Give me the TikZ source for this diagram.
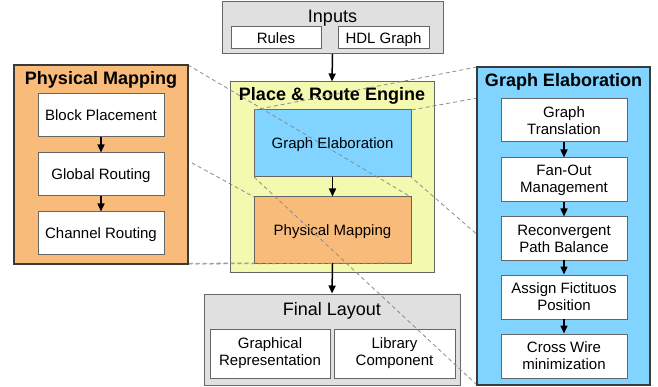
\documentclass[tikz,border=0pt]{standalone}
\usepackage{fontspec}
\setmainfont{Liberation Sans}
\usetikzlibrary{arrows.meta}
\pgfdeclarelayer{bg}
\pgfdeclarelayer{mid}
\pgfsetlayers{bg,mid,main}
\definecolor{gfill}{HTML}{E0E0E0}
\definecolor{yfill}{HTML}{F3F9AF}
\definecolor{bfill}{HTML}{80D4FF}
\definecolor{ofill}{HTML}{F8BB7A}
\definecolor{bord}{HTML}{666666}
\definecolor{dbord}{HTML}{3A3A3A}
\definecolor{zline}{HTML}{8C8C8C}
\tikzset{
  frame/.style={draw=bord, line width=1pt, inner sep=0pt, outer sep=0pt, anchor=north west},
  bigframe/.style={draw=dbord, line width=1.2pt, inner sep=0pt, outer sep=0pt, anchor=north west},
  txtbox/.style={frame, fill=white, align=center, font=\fontsize{15}{17}\selectfont},
  one/.style={text height=10.8pt, text depth=0pt},
  title/.style={anchor=base, inner sep=0pt, font=\fontsize{18}{21}\selectfont},
  btitle/.style={title, font=\fontsize{18}{21}\selectfont\bfseries},
  arr/.style={-{Triangle[length=8pt,width=7pt]}, line width=1.5pt, black, shorten >=0.5pt},
  zl/.style={draw=zline, line width=0.8pt, dash pattern=on 4pt off 3pt}
}
\begin{document}
\begin{tikzpicture}[x=1pt,y=-1pt]
\useasboundingbox (0,0) rectangle (658,387);
\begin{pgfonlayer}{bg}
  % Inputs
  \node[frame, fill=gfill, minimum width=221pt, minimum height=52pt] (inputs) at (222,2) {};
  \node[title] (inputsT) at (332.5,23) {Inputs};
  \node[txtbox, one, minimum width=90pt, minimum height=22pt] (rules) at (231,27) {Rules};
  \node[txtbox, one, minimum width=91pt, minimum height=22pt] (hdl) at (338,27) {HDL Graph};
  % Place & Route Engine
  \node[frame, fill=yfill, minimum width=204pt, minimum height=190pt] (pr) at (230,82) {};
  \node[btitle] (prT) at (332,101) {Place \& Route Engine};
  \node[frame, fill=bfill, one, font=\fontsize{15}{17}\selectfont, minimum width=157pt, minimum height=67pt] (gein) at (254,110) {Graph Elaboration};
  \node[frame, fill=ofill, one, font=\fontsize{15}{17}\selectfont, minimum width=157pt, minimum height=66pt] (pmin) at (254,197) {Physical Mapping};
  % Final Layout
  \node[frame, fill=gfill, minimum width=256pt, minimum height=91pt] (final) at (204,294) {};
  \node[title] (finalT) at (332,315) {Final Layout};
  \node[txtbox, minimum width=120pt, minimum height=49pt] (grep) at (210,329) {Graphical\\Representation};
  \node[txtbox, minimum width=121pt, minimum height=49pt] (lib) at (334,329) {Library\\Component};
  % arrows
  \draw[arr] (inputs.south) -- (pr.north);
  \draw[arr] (gein.south) -- (pmin.north);
  \draw[arr] (pmin.south) -- (final.north);
\end{pgfonlayer}
% Physical Mapping detail
\node[bigframe, fill=ofill, minimum width=174pt, minimum height=199pt] (pmbig) at (14,65) {};
\node[btitle] (pmbigT) at (101,85) {Physical Mapping};
\node[txtbox, one, minimum width=126pt, minimum height=43pt] (bp) at (38,94) {Block Placement};
\node[txtbox, one, minimum width=126pt, minimum height=43pt] (gr) at (38,153) {Global Routing};
\node[txtbox, one, minimum width=126pt, minimum height=43pt] (cr) at (38,212) {Channel Routing};
\draw[arr] (bp.south) -- (gr.north);
\draw[arr] (gr.south) -- (cr.north);
% Graph Elaboration detail
\node[bigframe, fill=bfill, minimum width=173pt, minimum height=318pt] (gebig) at (477,67) {};
\node[btitle] (gebigT) at (563.5,87) {Graph Elaboration};
\node[txtbox, minimum width=126pt, minimum height=43pt] (g1) at (501,99) {Graph\\Translation};
\node[txtbox, minimum width=126pt, minimum height=44pt] (g2) at (501,158) {Fan-Out\\Management};
\node[txtbox, minimum width=126pt, minimum height=43pt] (g3) at (501,217) {Reconvergent\\Path Balance};
\node[txtbox, minimum width=126pt, minimum height=44pt] (g4) at (501,275) {Assign Fictituos\\Position};
\node[txtbox, minimum width=126pt, minimum height=44pt] (g5) at (501,334) {Cross Wire\\minimization};
\draw[arr] (g1.south) -- (g2.north);
\draw[arr] (g2.south) -- (g3.north);
\draw[arr] (g3.south) -- (g4.north);
\draw[arr] (g4.south) -- (g5.north);
% zoom lines
\begin{pgfonlayer}{mid}
  \draw[zl] (pmbig.north west) -- (pmin.north west);
  \draw[zl] (pmbig.north east) -- (pmin.north east);
  \draw[zl] (pmbig.south west) -- (pmin.south west);
  \draw[zl] (pmbig.south east) -- (pmin.south east);
  \draw[zl] (gebig.north west) -- (gein.north west);
  \draw[zl] (gebig.north east) -- (gein.north east);
  \draw[zl] (gebig.south west) -- (gein.south west);
  \draw[zl] (gebig.south east) -- (gein.south east);
\end{pgfonlayer}
\end{tikzpicture}
\end{document}
